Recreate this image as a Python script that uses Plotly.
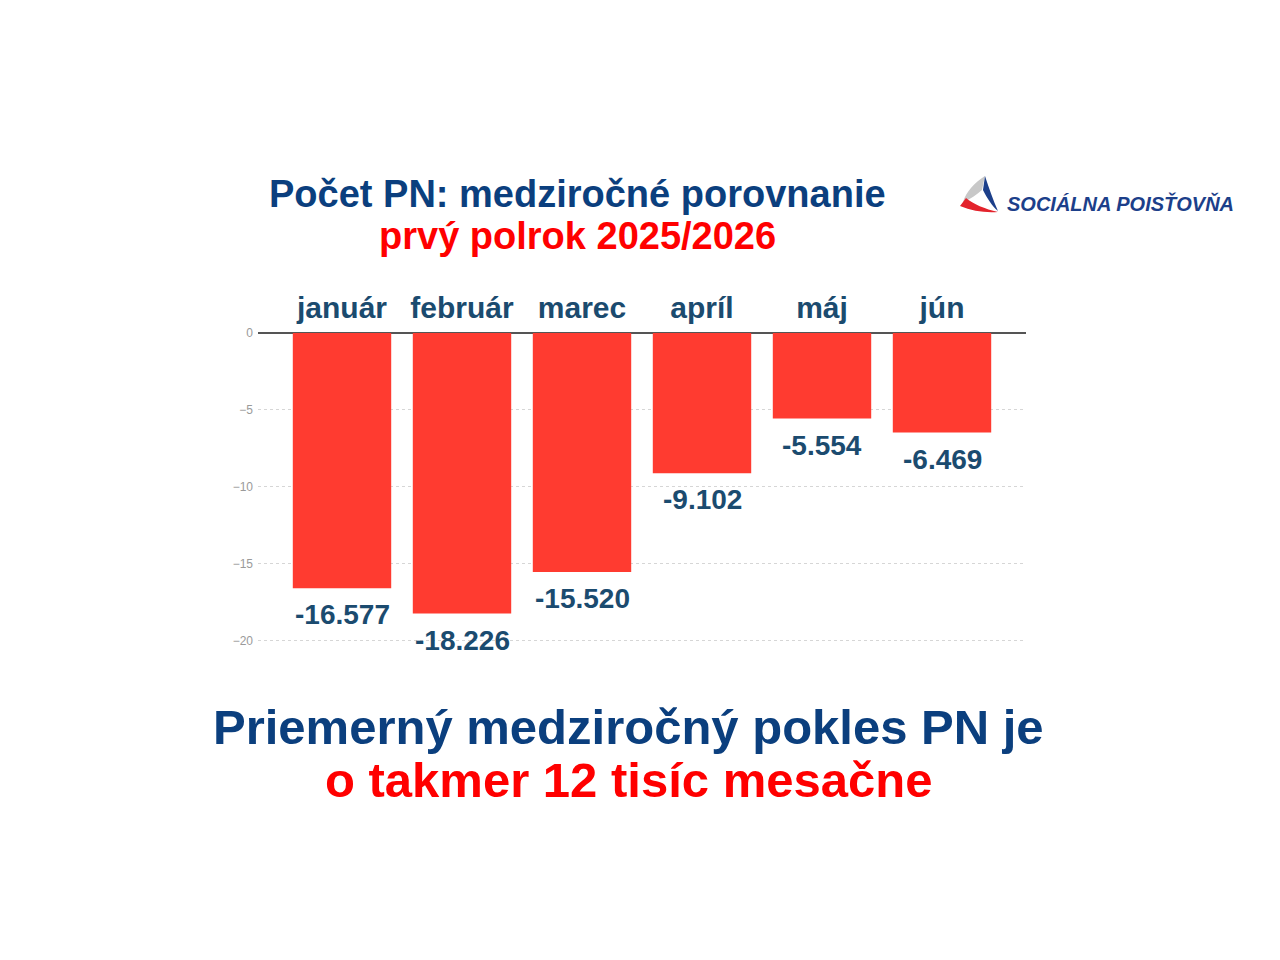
import plotly.graph_objects as go

# Data: year-on-year change in number of PN (thousands), first half-year
months = ["január", "február", "marec", "apríl", "máj", "jún"]
change_thousands = [-16.577, -18.226, -15.520, -9.102, -5.554, -6.469]
y_ticks = [0, -5, -10, -15, -20]

labels = [f"{v:.3f}" for v in change_thousands]

W, H = 1280, 960
OFF = 8  # page body margin
L, R, T, B = 258, 1026, 333, 644  # plot area in screenshot pixels

BLUE = "#0b3f7e"
RED = "#ff0000"
LABEL = "#1b4b6f"


def px(x):
    return (x - L) / (R - L)


def py(y):
    return (B - y) / (B - T)


fig = go.Figure(go.Bar(
    x=months,
    y=change_thousands,
    width=0.82,
    marker=dict(color="#ff3b30", line=dict(width=0)),
    hoverinfo="x+y",
))

fig.update_xaxes(
    side="top",
    range=[-0.7, 5.7],
    showgrid=False,
    showline=False,
    ticks="",
    ticklabelstandoff=8,
    tickfont=dict(family="Liberation Sans", size=30, color=LABEL, weight="bold"),
)
fig.update_yaxes(
    range=[-20.2, 0],
    tickvals=y_ticks,
    showgrid=True,
    gridcolor="#d6d6d6",
    griddash="dot",
    gridwidth=1,
    zeroline=True,
    zerolinecolor="#555555",
    zerolinewidth=2,
    ticklabelstandoff=4,
    tickfont=dict(family="Liberation Sans", size=12, color="#9a9a9a"),
)

# value labels under each bar
annotations = []
for m, v, t in zip(months, change_thousands, labels):
    annotations.append(dict(
        x=m, y=v, xref="x", yref="y", text=t, showarrow=False,
        xanchor="center", yanchor="top", yshift=-9,
        font=dict(family="Liberation Sans", size=28, color=LABEL, weight="bold"),
    ))

# logo (Sociálna poisťovňa)
logo = [
    ("M 963 202 C 966 192 975 182 985 176 L 982 190 C 977 194 971 199 963 202 Z", "#c8c8c8"),
    ("M 985 176 C 989 188 993 200 998 211 C 992 206 987 198 983 190 Z", "#1c3f8a"),
    ("M 960 206 C 972 211 985 213 998 212 C 985 209 973 204 966 198 Z", "#e3232c"),
]
shapes = []
for path, color in logo:
    out = []
    coord = []
    for tok in path.split():
        try:
            coord.append(float(tok))
        except ValueError:
            out.append(tok)
            continue
        if len(coord) == 2:
            out.append(f"{px(coord[0]):.4f},{py(coord[1]):.4f}")
            coord = []
    shapes.append(dict(type="path", xref="paper", yref="paper",
                       path=" ".join(out), fillcolor=color, line=dict(width=0)))

texts = [
    ("Počet PN: medziročné porovnanie", 577, 194, 38, BLUE),
    ("prvý polrok 2025/2026", 577, 236, 38, RED),
    ("<i>SOCIÁLNA POISŤOVŇA</i>", 1120, 203, 20, "#1c3f8a"),
    ("Priemerný medziročný pokles PN je", 628, 727, 49, BLUE),
    ("o takmer 12 tisíc mesačne", 628, 780, 49, RED),
]
for text, x, y, size, color in texts:
    annotations.append(dict(
        text=text, x=px(x), y=py(y), xref="paper", yref="paper",
        showarrow=False, xanchor="center", yanchor="middle",
        font=dict(family="Liberation Sans", size=size, color=color, weight="bold"),
    ))

fig.update_layout(
    width=W,
    height=H,
    margin=dict(l=L - OFF, r=W - R + OFF, t=T - OFF, b=H - B + OFF, autoexpand=False),
    paper_bgcolor="white",
    plot_bgcolor="white",
    showlegend=False,
    shapes=shapes,
    annotations=annotations,
)

fig.write_html("out.html")
